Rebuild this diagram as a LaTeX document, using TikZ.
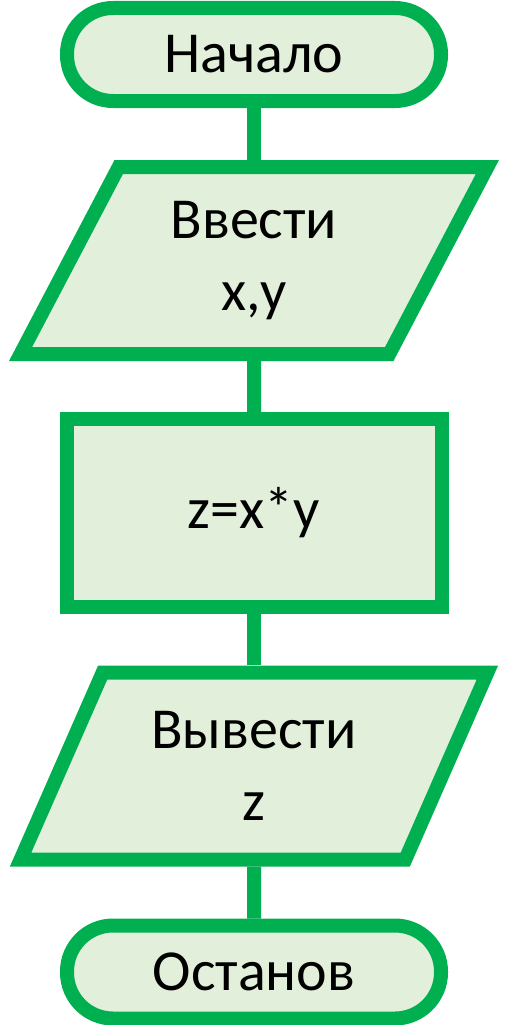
\documentclass[tikz,border=0pt]{standalone}
\usepackage{fontspec}
\setmainfont{Carlito}
\usetikzlibrary{shapes.geometric}
\definecolor{flowgreen}{HTML}{00B050}
\definecolor{flowfill}{HTML}{E2EFDA}
\tikzset{
  block/.style={draw=flowgreen, fill=flowfill, line width=14pt, align=center,
    inner sep=0pt, font=\fontsize{58}{72}\selectfont},
  terminal/.style={block, rectangle, rounded corners=46pt,
    minimum width=374pt, minimum height=93pt},
  process/.style={block, rectangle, minimum width=375pt, minimum height=188pt},
  iobox/.style={block, trapezium, trapezium left angle=63, trapezium right angle=117,
    trapezium stretches=true, minimum width=467pt, minimum height=187pt},
  link/.style={draw=flowgreen, line width=14pt},
}
\begin{document}
\begin{tikzpicture}[x=1pt, y=-1pt]
  \useasboundingbox (0,0) rectangle (513,1025);
  % Blöcke
  \node[terminal] (start) at (254,54.5) {Начало};
  \node[iobox] (input) at (254,260.5) {Ввести\\x,y};
  \node[process] (calc) at (254,513) {z=x*y};
  \node[iobox] (output) at (254,766) {Вывести\\z};
  \node[terminal] (stop) at (254,972) {Останов};
  % Verbindungen
  \draw[link] (start) -- (input);
  \draw[link] (input) -- (calc);
  \draw[link] (calc) -- (output);
  \draw[link] (output) -- (stop);
\end{tikzpicture}
\end{document}
